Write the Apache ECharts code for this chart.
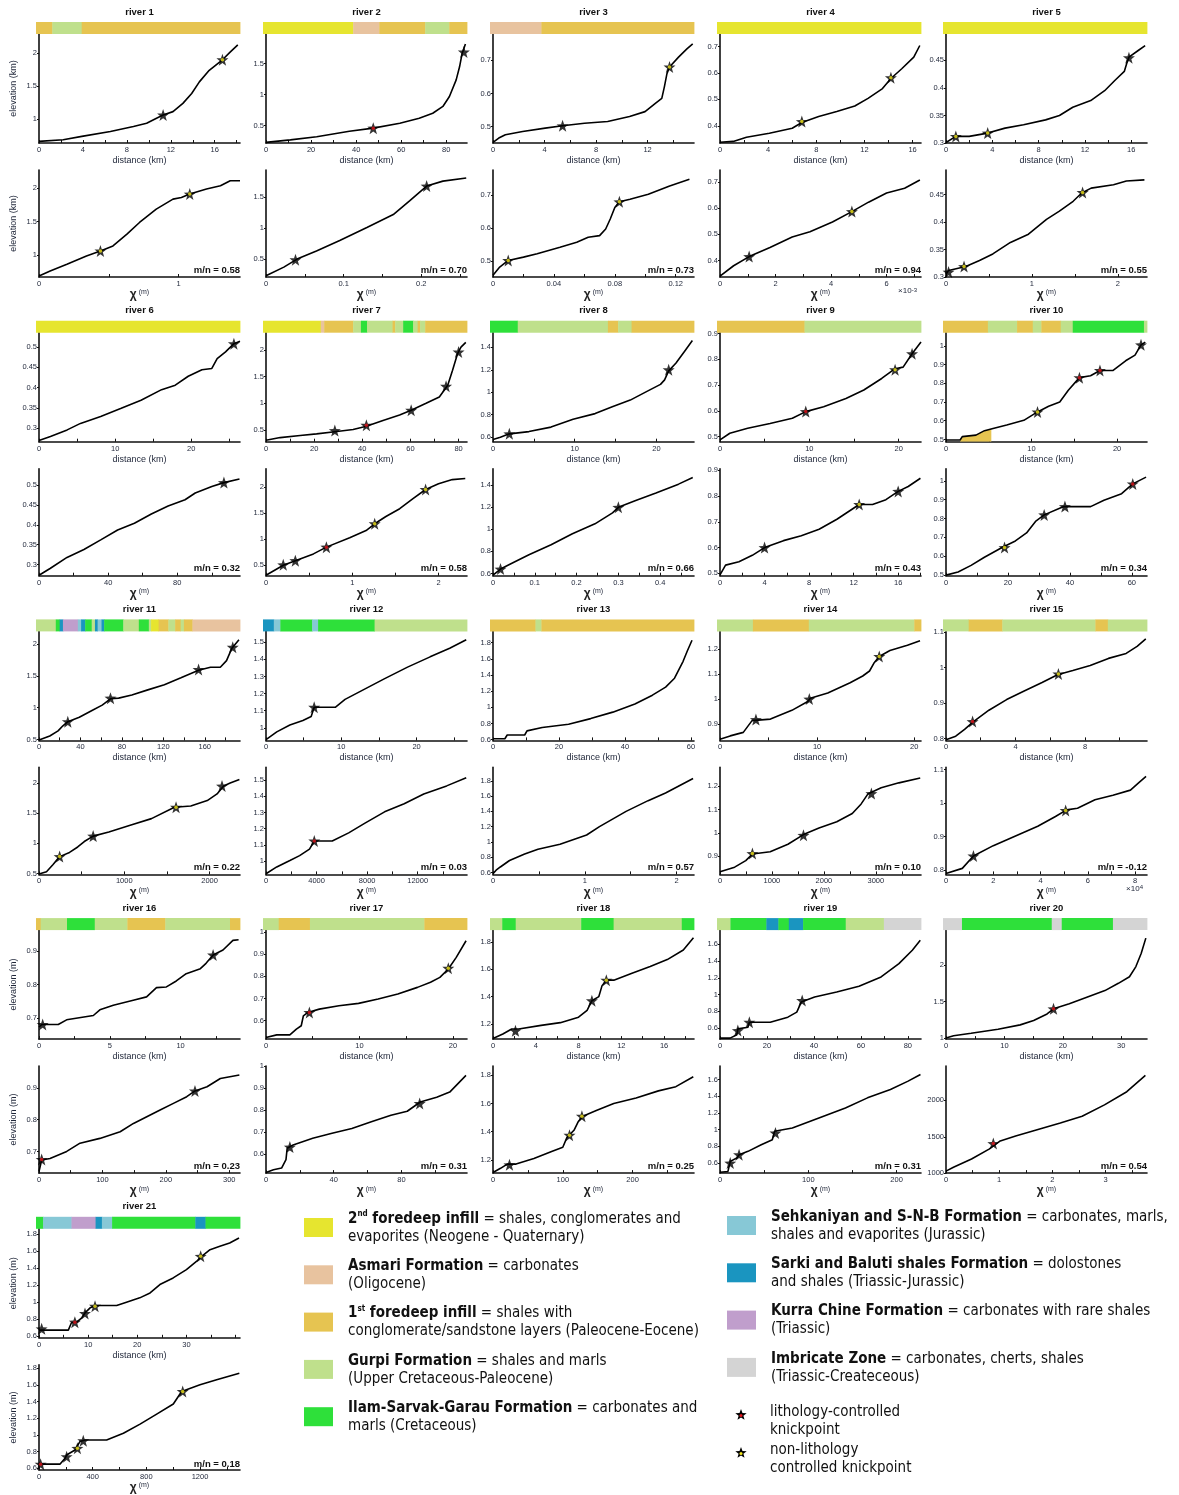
<!DOCTYPE html>
<html><head><meta charset="utf-8">
<script src="https://cdn.jsdelivr.net/npm/echarts@6/dist/echarts.min.js"></script>
<style>html,body{margin:0;padding:0;background:#fff}#c{width:1179px;height:1495px}</style>
</head><body><div id="c"></div>
<script>
// ---------------- DATA ----------------
const riverNames = ['river 1','river 2','river 3','river 4','river 5','river 6','river 7','river 8','river 9','river 10','river 11','river 12','river 13','river 14','river 15','river 16','river 17','river 18','river 19','river 20','river 21'];
const mnValues = ['0.58','0.70','0.73','0.94','0.55','0.32','0.58','0.66','0.43','0.34','0.22','0.03','0.57','0.10','-0.12','0.23','0.31','0.25','0.31','0.54','0.18'];

// distance axis: max, labels, tick step
const distMax = [18.3,89.2,15.6,16.7,17.36,26.4,83.5,24.6,22.5,23.5,194,26.7,60.9,20.7,11.57,14.2,21.5,18.8,85.6,34.4,40.9];
const distLabels = [[0,4,8,12,16],[0,20,40,60,80],[0,4,8,12],[0,4,8,12,16],[0,4,8,12,16],[0,10,20],[0,20,40,60,80],[0,10,20],[0,10,20],[0,10,20],[0,40,80,120,160],[0,10,20],[0,20,40,60],[0,10,20],[0,4,8],[0,5,10],[0,10,20],[0,4,8,12,16],[0,20,40,60,80],[0,10,20,30],[0,10,20,30]];
const distStep = [2,10,2,2,2,5,10,5,5,5,20,5,10,5,2,2.5,5,2,10,5,5];
// chi axis: max, labels, tick step
const chiMax = [1.44,0.259,0.132,7.24,2.34,116.3,2.33,0.481,18.05,64.9,2357,15900,2.19,3870,8.5,317,118.7,288,227.6,3.78,1498];
const chiLabels = [[0,1],[0,0.1,0.2],[0,0.04,0.08,0.12],[0,2,4,6],[0,1,2],[0,40,80],[0,1,2],[0,0.1,0.2,0.3,0.4],[0,4,8,12,16],[0,20,40,60],[0,1000,2000],[0,4000,8000,12000],[0,1,2],[0,1000,2000,3000],[0,2,4,6,8],[0,100,200,300],[0,40,80],[0,100,200],[0,100,200],[0,1,2,3],[0,400,800,1200]];
const chiStep = [0.5,0.05,0.02,1,0.5,20,0.5,0.05,2,10,500,2000,0.5,500,1,50,20,50,50,0.5,200];
const chiMultiplier = ['','','','×10{s|-3}','','','','','','','','','','','×10{s|4}','','','','','',''];
// elevation axes: [min, max]
const elevTop = [[0.64,2.29],[0.22,1.98],[0.45,0.78],[0.335,0.7475],[0.3,0.498],[0.267,0.535],[0.283,2.32],[0.56,1.53],[0.48,0.904],[0.488,1.07],[0.485,2.2],[0.926,1.564],[0.59,1.94],[0.835,1.27],[0.795,1.102],[0.636,0.964],[0.517,1.008],[1.09,1.885],[0.468,1.77],[0.985,2.48],[0.58,1.86]];
const elevBot = [[0.67,2.27],[0.21,1.94],[0.453,0.776],[0.337,0.746],[0.3,0.495],[0.272,0.541],[0.3,2.36],[0.58,1.55],[0.491,0.906],[0.495,1.065],[0.485,2.26],[0.918,1.578],[0.575,1.975],[0.823,1.28],[0.787,1.107],[0.632,0.968],[0.514,1.0],[1.106,1.866],[0.48,1.76],[1000,2472],[0.58,1.84]];
const elevTopLabels = [[1,1.5,2],[0.5,1,1.5],[0.5,0.6,0.7],[0.4,0.5,0.6,0.7],[0.3,0.35,0.4,0.45],[0.3,0.35,0.4,0.45,0.5],[0.5,1,1.5,2],[0.6,0.8,1,1.2,1.4],[0.5,0.6,0.7,0.8,0.9],[0.5,0.6,0.7,0.8,0.9,1],[0.5,1,1.5,2],[1,1.1,1.2,1.3,1.4,1.5],[0.6,0.8,1,1.2,1.4,1.6,1.8],[0.9,1,1.1,1.2],[0.8,0.9,1,1.1],[0.7,0.8,0.9],[0.6,0.7,0.8,0.9,1],[1.2,1.4,1.6,1.8],[0.6,0.8,1,1.2,1.4,1.6],[1,1.5,2],[0.6,0.8,1,1.2,1.4,1.6,1.8]];
const elevBotLabels = [[1,1.5,2],[0.5,1,1.5],[0.5,0.6,0.7],[0.4,0.5,0.6,0.7],[0.3,0.35,0.4,0.45],[0.3,0.35,0.4,0.45,0.5],[0.5,1,1.5,2],[0.6,0.8,1,1.2,1.4],[0.5,0.6,0.7,0.8,0.9],[0.5,0.6,0.7,0.8,0.9,1],[0.5,1,1.5,2],[1,1.1,1.2,1.3,1.4,1.5],[0.6,0.8,1,1.2,1.4,1.6,1.8],[0.9,1,1.1,1.2],[0.8,0.9,1,1.1],[0.7,0.8,0.9],[0.6,0.7,0.8,0.9,1],[1.2,1.4,1.6,1.8],[0.6,0.8,1,1.2,1.4,1.6],[1000,1500,2000],[0.6,0.8,1,1.2,1.4,1.6,1.8]];
const elevName = ['elevation (km)','','','','','','','','','','','','','','','elevation (m)','','','','','elevation (m)'];

// longitudinal profiles: [distance (km), elevation]
const profDist = [
 [[0,0.665],[2.2,0.69],[3.9,0.74],[6.5,0.815],[8.6,0.89],[9.8,0.94],[10.7,1.015],[11.3,1.065],[12.2,1.115],[13.1,1.24],[13.9,1.39],[14.6,1.565],[15.5,1.74],[16.7,1.9],[17.4,2.015],[18.1,2.125]],
 [[0,0.23],[10.8,0.27],[22.5,0.32],[37,0.41],[47.6,0.46],[59.4,0.54],[68,0.62],[74,0.7],[78.5,0.81],[81.4,0.97],[84.4,1.24],[85.9,1.45],[87,1.66],[88.5,1.82]],
 [[0,0.452],[0.45,0.465],[0.96,0.475],[2.3,0.485],[4.05,0.495],[5.4,0.502],[7.1,0.51],[8.9,0.515],[10.6,0.53],[11.8,0.545],[12.6,0.57],[13.1,0.585],[13.3,0.62],[13.5,0.66],[13.7,0.68],[14.4,0.71],[15.05,0.735],[15.5,0.75]],
 [[0,0.338],[1.1,0.341],[2.2,0.357],[4.1,0.372],[6,0.391],[6.8,0.4125],[8.2,0.435],[9.7,0.454],[11.2,0.475],[12.3,0.504],[13.5,0.541],[14.2,0.579],[15.1,0.616],[16.1,0.66],[16.6,0.704]],
 [[0,0.301],[0.85,0.312],[2,0.312],[3.6,0.318],[5.1,0.327],[6.7,0.333],[8.6,0.342],[9.8,0.35],[10.95,0.365],[12.5,0.377],[13.7,0.395],[14.6,0.414],[15.4,0.43],[15.6,0.444],[15.8,0.456],[16.6,0.468],[17.2,0.477]],
 [[0,0.27],[1.5,0.28],[3.7,0.296],[5.45,0.312],[8.1,0.329],[10.8,0.349],[13.4,0.369],[16.1,0.395],[17.9,0.406],[19.6,0.428],[21.4,0.444],[22.7,0.447],[23.4,0.471],[24.5,0.488],[25.6,0.508],[26.4,0.514]],
 [[0,0.31],[5.9,0.36],[14.2,0.4],[21,0.43],[28.6,0.47],[36.2,0.51],[41.7,0.57],[48.6,0.68],[55.5,0.78],[60.3,0.87],[66.5,1.0],[72,1.12],[74.1,1.25],[75.5,1.34],[77.5,1.62],[79.6,1.93],[81,2.05],[83,2.14]],
 [[0,0.58],[0.9,0.6],[2,0.63],[4.4,0.65],[7.1,0.69],[9.8,0.76],[12.5,0.81],[14.6,0.87],[16.8,0.93],[18.9,1.01],[20.5,1.07],[21,1.11],[21.5,1.19],[22.4,1.26],[23.5,1.37],[24.4,1.46]],
 [[0,0.487],[1.1,0.513],[3.1,0.532],[5.6,0.551],[8.1,0.571],[9.6,0.597],[11.6,0.616],[14.1,0.648],[16.1,0.681],[18.1,0.726],[19.6,0.764],[20.5,0.77],[21.5,0.822],[22.5,0.868]],
 [[0,0.497],[1.65,0.497],[1.9,0.515],[3.5,0.523],[4.5,0.547],[5.5,0.559],[7.1,0.577],[9.1,0.602],[10.7,0.647],[12,0.677],[13.3,0.7],[14.3,0.763],[15.6,0.83],[16.9,0.84],[18,0.868],[19.5,0.868],[21,0.92],[22.1,0.95],[22.8,1.005],[23.3,1.02]],
 [[0,0.49],[10.4,0.555],[18.4,0.635],[23.1,0.715],[27.8,0.78],[38.9,0.85],[51.6,0.96],[61,1.04],[69,1.14],[76.9,1.15],[89.6,1.2],[105,1.28],[121,1.36],[137,1.47],[154,1.59],[165.5,1.635],[175,1.635],[181,1.74],[186,1.93],[193,2.07]],
 [[0,0.93],[1.43,0.976],[3.17,1.016],[4.9,1.042],[6,1.066],[6.4,1.12],[9.2,1.12],[10.5,1.166],[13.1,1.226],[15.7,1.286],[18.8,1.355],[21.8,1.415],[24.4,1.465],[26.6,1.515]],
 [[0,0.61],[3.6,0.61],[4.3,0.657],[9.6,0.657],[10.3,0.708],[14.9,0.75],[22.9,0.79],[29.6,0.86],[36.3,0.94],[43,1.04],[48.3,1.15],[52.3,1.25],[55,1.36],[57.6,1.57],[58.9,1.7],[60.3,1.83]],
 [[0,0.84],[1.05,0.853],[2.4,0.867],[3.3,0.914],[5.2,0.92],[7.4,0.955],[9.04,0.99],[9.3,1.003],[11.1,1.024],[13.4,1.065],[14.7,1.092],[15.4,1.112],[15.9,1.146],[16.4,1.17],[17.5,1.194],[19.3,1.215],[20.6,1.233]],
 [[0,0.797],[0.56,0.807],[1.07,0.826],[1.58,0.848],[2.47,0.88],[3.49,0.91],[4.5,0.934],[5.53,0.958],[6.42,0.98],[7.3,0.992],[8.3,1.006],[9.35,1.026],[10.37,1.04],[11,1.06],[11.5,1.081]],
 [[0,0.672],[0.19,0.68],[1.36,0.68],[1.95,0.694],[3.84,0.707],[4.3,0.724],[5.25,0.738],[6.66,0.753],[7.6,0.763],[8.3,0.791],[9,0.793],[9.7,0.811],[10.4,0.833],[11.4,0.848],[11.8,0.864],[12.3,0.889],[13,0.904],[13.7,0.933],[14.1,0.935]],
 [[0,0.524],[1.15,0.536],[2.55,0.536],[3.25,0.562],[3.77,0.577],[4,0.622],[4.47,0.637],[5.7,0.652],[7.8,0.667],[9.9,0.678],[12,0.698],[14.1,0.72],[16.2,0.75],[17.6,0.773],[18.6,0.795],[19.5,0.833],[20.35,0.885],[21.4,0.96]],
 [[0,1.095],[0.92,1.127],[1.75,1.164],[2.4,1.164],[4.5,1.19],[6.3,1.21],[8,1.25],[8.8,1.3],[9.25,1.37],[9.9,1.4],[10.2,1.48],[10.6,1.52],[11.3,1.52],[13,1.57],[14.7,1.62],[16.3,1.67],[17.8,1.74],[18.75,1.83]],
 [[0,0.48],[4.3,0.48],[7.2,0.52],[7.6,0.59],[11.9,0.61],[12.5,0.67],[21.4,0.67],[28.9,0.73],[32.7,0.79],[34.6,0.91],[40.3,0.97],[49.7,1.03],[59.2,1.1],[68.6,1.21],[76.2,1.37],[81.9,1.53],[85.3,1.65]],
 [[0,1.0],[1.3,1.03],[4.3,1.065],[8.9,1.12],[12.7,1.18],[15,1.24],[17.3,1.33],[18.4,1.4],[21.1,1.47],[24.1,1.56],[27.2,1.65],[29.5,1.75],[31.4,1.84],[32.5,1.98],[33.4,2.16],[34.2,2.37]],
 [[0,0.67],[5.97,0.67],[6.6,0.756],[7.66,0.764],[8.7,0.815],[9.36,0.873],[10.4,0.932],[11.7,0.959],[15.8,0.959],[17.8,0.998],[20.5,1.049],[22.6,1.107],[24.6,1.205],[27.3,1.283],[30,1.381],[32.1,1.479],[33.1,1.537],[34.8,1.615],[36.8,1.654],[38.8,1.693],[40.7,1.752]]
];
// chi plots: [chi, elevation]
const profChi = [
 [[0,0.685],[0.08,0.76],[0.2,0.86],[0.34,0.985],[0.44,1.06],[0.53,1.135],[0.63,1.31],[0.72,1.485],[0.84,1.685],[0.96,1.835],[1.02,1.86],[1.08,1.91],[1.2,1.985],[1.3,2.035],[1.37,2.11],[1.44,2.11]],
 [[0,0.23],[0.023,0.37],[0.04,0.5],[0.065,0.63],[0.095,0.8],[0.13,1.01],[0.164,1.22],[0.185,1.44],[0.207,1.68],[0.228,1.76],[0.258,1.81]],
 [[0,0.458],[0.0044,0.483],[0.01,0.503],[0.02,0.513],[0.029,0.523],[0.044,0.543],[0.055,0.558],[0.0625,0.573],[0.07,0.578],[0.074,0.598],[0.077,0.628],[0.08,0.663],[0.083,0.68],[0.09,0.688],[0.102,0.703],[0.116,0.728],[0.129,0.748]],
 [[0,0.34],[0.49,0.38],[1.05,0.415],[1.8,0.45],[2.6,0.49],[3.24,0.51],[4.05,0.547],[4.75,0.587],[5.35,0.623],[6,0.658],[6.65,0.676],[7.2,0.708]],
 [[0,0.305],[0.03,0.312],[0.23,0.319],[0.39,0.33],[0.545,0.342],[0.75,0.363],[0.96,0.378],[1.17,0.405],[1.32,0.42],[1.48,0.438],[1.58,0.453],[1.69,0.462],[1.95,0.468],[2.1,0.475],[2.31,0.477]],
 [[0,0.273],[6.4,0.29],[16.2,0.318],[26,0.338],[35.7,0.362],[45.5,0.387],[55.2,0.404],[65,0.427],[74.7,0.447],[84.5,0.463],[90.4,0.48],[100,0.496],[107,0.506],[116,0.515]],
 [[0,0.31],[0.2,0.5],[0.34,0.59],[0.55,0.72],[0.7,0.85],[0.97,1.03],[1.16,1.17],[1.26,1.3],[1.39,1.44],[1.55,1.59],[1.7,1.78],[1.85,1.96],[2.0,2.07],[2.16,2.15],[2.31,2.17]],
 [[0,0.585],[0.018,0.64],[0.044,0.69],[0.086,0.77],[0.139,0.86],[0.19,0.96],[0.244,1.05],[0.286,1.15],[0.3,1.2],[0.34,1.26],[0.39,1.33],[0.444,1.41],[0.478,1.47]],
 [[0,0.494],[0.5,0.532],[1.7,0.545],[2.9,0.57],[4,0.6],[5.7,0.627],[7.3,0.646],[8.9,0.671],[10.5,0.71],[12.5,0.767],[13.7,0.767],[14.9,0.786],[16,0.818],[16.9,0.837],[18,0.869]],
 [[0,0.498],[3.9,0.515],[8.1,0.55],[12.4,0.593],[18.1,0.645],[22.4,0.68],[26,0.723],[28.9,0.784],[31.7,0.819],[36.7,0.854],[38.1,0.863],[46.7,0.863],[51,0.897],[56.7,0.932],[60.3,0.984],[64.6,1.02]],
 [[0,0.49],[88,0.53],[165,0.65],[242,0.78],[358,0.85],[454,0.94],[531,1.03],[635,1.12],[819,1.19],[1088,1.31],[1319,1.41],[1588,1.6],[1780,1.62],[1973,1.71],[2088,1.82],[2165,1.95],[2242,2.0],[2350,2.06]],
 [[0,0.922],[850,0.964],[1890,1.004],[2660,1.034],[3440,1.074],[3820,1.124],[5240,1.124],[6540,1.174],[7830,1.234],[9380,1.304],[10930,1.354],[12480,1.414],[14290,1.464],[15840,1.514]],
 [[0,0.585],[0.034,0.63],[0.08,0.672],[0.18,0.757],[0.345,0.842],[0.49,0.905],[0.73,0.97],[1.02,1.09],[1.16,1.2],[1.45,1.4],[1.69,1.54],[1.88,1.64],[2.18,1.83]],
 [[0,0.834],[282,0.854],[496,0.882],[624,0.91],[966,0.92],[1308,0.952],[1607,0.993],[1906,1.021],[2248,1.048],[2547,1.083],[2718,1.124],[2846,1.166],[3103,1.193],[3444,1.214],[3855,1.235]],
 [[0,0.79],[0.69,0.805],[1.16,0.842],[2.0,0.873],[2.94,0.902],[3.88,0.931],[4.63,0.96],[5.1,0.98],[5.56,0.985],[6.3,1.01],[7.06,1.024],[7.8,1.039],[8.18,1.063],[8.46,1.08]],
 [[0,0.637],[4.2,0.673],[17.4,0.678],[43.7,0.7],[64.7,0.726],[96,0.741],[128,0.762],[149,0.788],[170,0.809],[191,0.83],[212,0.851],[233,0.872],[246,0.89],[265,0.903],[286,0.929],[316,0.94]],
 [[0,0.517],[4.4,0.529],[9.2,0.537],[11.8,0.575],[12.5,0.627],[16,0.642],[27.6,0.672],[39,0.695],[50.7,0.717],[62.2,0.747],[73.8,0.777],[83.4,0.795],[91.1,0.837],[100.8,0.859],[108.5,0.882],[118.1,0.958]],
 [[0,1.11],[10.8,1.14],[20.4,1.17],[33,1.17],[58.6,1.21],[84,1.26],[100,1.29],[106,1.36],[116,1.41],[122,1.47],[128.7,1.51],[148,1.55],[173,1.6],[205,1.64],[237,1.69],[262,1.72],[287,1.79]],
 [[0,0.49],[9,0.5],[11.6,0.62],[19,0.66],[21.6,0.7],[31.7,0.74],[46.7,0.82],[59.3,0.88],[61.8,0.98],[81.9,1.02],[112,1.14],[142,1.26],[167,1.38],[193,1.48],[213,1.58],[227,1.66]],
 [[0,1027],[0.14,1081],[0.48,1194],[0.81,1330],[1.02,1442],[1.31,1510],[1.73,1600],[2.15,1690],[2.56,1781],[2.98,1939],[3.4,2120],[3.75,2345]],
 [[0,0.65],[156,0.65],[194,0.72],[206,0.76],[268,0.82],[305,0.92],[343,0.94],[504,0.94],[629,1.02],[753,1.13],[877,1.25],[1001,1.37],[1063,1.52],[1200,1.6],[1324,1.66],[1493,1.74]]
];
// knickpoints: [x, elevation, type]  L = lithology-controlled, N = non-lithology, B = unmarked
const knickDist = [
 [[11.3,1.065,'B'],[16.7,1.9,'N']],
 [[47.6,0.46,'L'],[87.8,1.69,'B']],
 [[5.4,0.502,'B'],[13.7,0.68,'N']],
 [[6.8,0.416,'N'],[14.2,0.582,'N']],
 [[0.85,0.312,'N'],[3.6,0.318,'N'],[15.8,0.455,'B']],
 [[25.6,0.508,'B']],
 [[28.6,0.49,'B'],[41.7,0.59,'L'],[60.3,0.87,'B'],[74.8,1.32,'B'],[80,1.96,'B']],
 [[2,0.63,'B'],[21.5,1.2,'B']],
 [[9.6,0.597,'L'],[19.6,0.76,'N'],[21.5,0.822,'B']],
 [[10.7,0.647,'N'],[15.6,0.83,'L'],[18,0.868,'L'],[22.8,1.005,'B']],
 [[27.8,0.78,'B'],[69,1.15,'B'],[154,1.6,'B'],[187,1.95,'B']],
 [[6.4,1.12,'B']],
 [],
 [[3.7,0.918,'B'],[9.2,1.0,'B'],[16.4,1.17,'N']],
 [[1.53,0.848,'L'],[6.47,0.982,'N']],
 [[0.26,0.68,'B'],[12.3,0.889,'B']],
 [[4.64,0.637,'L'],[19.5,0.836,'N']],
 [[2.1,1.15,'B'],[9.25,1.37,'B'],[10.6,1.52,'N']],
 [[7.6,0.57,'B'],[12.5,0.67,'B'],[35,0.93,'B']],
 [[18.4,1.4,'L']],
 [[0.54,0.685,'B'],[7.3,0.764,'L'],[9.36,0.865,'B'],[11.4,0.951,'N'],[32.9,1.537,'N']]
];
const knickChi = [
 [[0.44,1.06,'N'],[1.08,1.91,'N']],
 [[0.038,0.49,'B'],[0.207,1.68,'B']],
 [[0.01,0.503,'N'],[0.083,0.68,'N']],
 [[1.05,0.415,'B'],[4.75,0.587,'N']],
 [[0.03,0.309,'B'],[0.21,0.319,'N'],[1.59,0.454,'N']],
 [[107,0.506,'B']],
 [[0.2,0.51,'B'],[0.34,0.59,'B'],[0.7,0.85,'L'],[1.26,1.3,'N'],[1.85,1.96,'N']],
 [[0.018,0.64,'B'],[0.3,1.2,'B']],
 [[4,0.6,'B'],[12.5,0.767,'N'],[16,0.818,'B']],
 [[18.9,0.645,'N'],[31.7,0.819,'B'],[38.4,0.863,'B'],[60.3,0.984,'L']],
 [[242,0.78,'N'],[635,1.12,'B'],[1607,1.6,'N'],[2146,1.95,'B']],
 [[3820,1.124,'L']],
 [],
 [[624,0.912,'N'],[1607,0.99,'B'],[2915,1.168,'B']],
 [[1.16,0.842,'B'],[5.06,0.978,'N']],
 [[4.2,0.675,'L'],[246,0.89,'B']],
 [[14.1,0.632,'B'],[90.75,0.83,'B']],
 [[23.6,1.165,'B'],[109.6,1.375,'N'],[127.4,1.51,'N']],
 [[11.6,0.6,'B'],[21.6,0.7,'B'],[62.8,0.96,'B']],
 [[0.89,1406,'L']],
 [[12,0.65,'L'],[206,0.74,'B'],[286,0.84,'N'],[330,0.93,'B'],[1071,1.52,'N']]
];
// lithology along each river: [start fraction, end fraction, formation index]
const litho = [
 [[0,0.08,2],[0.08,0.224,3],[0.224,1,2]],
 [[0,0.442,0],[0.442,0.57,1],[0.57,0.795,2],[0.795,0.913,3],[0.913,1,2]],
 [[0,0.252,1],[0.252,1,2]],
 [[0,1,0]],
 [[0,1,0]],
 [[0,1,0]],
 [[0,0.283,0],[0.283,0.3,1],[0.3,0.442,2],[0.442,0.48,3],[0.48,0.51,4],[0.51,0.635,3],[0.635,0.648,2],[0.648,0.687,3],[0.687,0.736,4],[0.736,0.758,3],[0.758,0.77,2],[0.77,0.795,3],[0.795,1,2]],
 [[0,0.136,4],[0.136,0.578,3],[0.578,0.628,2],[0.628,0.694,3],[0.694,1,2]],
 [[0,0.429,2],[0.429,1,3]],
 [[0,0.22,2],[0.22,0.363,3],[0.363,0.44,2],[0.44,0.482,3],[0.482,0.577,2],[0.577,0.636,3],[0.636,0.985,4],[0.985,1,3]],
 [[0,0.097,3],[0.097,0.116,4],[0.116,0.132,6],[0.132,0.205,7],[0.205,0.221,5],[0.221,0.241,6],[0.241,0.273,4],[0.273,0.289,3],[0.289,0.302,6],[0.302,0.321,5],[0.321,0.334,6],[0.334,0.428,4],[0.428,0.504,3],[0.504,0.553,4],[0.553,0.564,3],[0.564,0.601,0],[0.601,0.649,2],[0.649,0.682,3],[0.682,0.709,2],[0.709,0.725,3],[0.725,0.767,2],[0.767,1,1]],
 [[0,0.053,6],[0.053,0.085,5],[0.085,0.241,4],[0.241,0.27,5],[0.27,0.547,4],[0.547,1,3]],
 [[0,0.223,2],[0.223,0.252,3],[0.252,1,2]],
 [[0,0.176,3],[0.176,0.45,2],[0.45,0.967,3],[0.967,1,2]],
 [[0,0.126,3],[0.126,0.291,2],[0.291,0.747,3],[0.747,0.808,2],[0.808,1,3]],
 [[0,0.023,2],[0.023,0.152,3],[0.152,0.288,4],[0.288,0.448,3],[0.448,0.634,2],[0.634,0.951,3],[0.951,1,2]],
 [[0,0.077,3],[0.077,0.23,2],[0.23,0.791,3],[0.791,1,2]],
 [[0,0.06,3],[0.06,0.126,4],[0.126,0.447,3],[0.447,0.606,4],[0.606,0.94,3],[0.94,1,4]],
 [[0,0.066,3],[0.066,0.242,4],[0.242,0.301,6],[0.301,0.352,4],[0.352,0.422,6],[0.422,0.631,4],[0.631,0.818,3],[0.818,1,8]],
 [[0,0.093,8],[0.093,0.533,4],[0.533,0.582,8],[0.582,0.833,4],[0.833,1,8]],
 [[0,0.035,4],[0.035,0.174,5],[0.174,0.292,7],[0.292,0.323,6],[0.323,0.373,5],[0.373,0.781,4],[0.781,0.831,6],[0.831,1,4]]
];
// river 10: 1st foredeep infill outcrop under the profile
const river10Fill = [[1.65,0.497],[1.9,0.515],[3.5,0.523],[4.5,0.547],[5.3,0.557]];

// legend
const formationNames = ['2{s|nd} foredeep infill','Asmari Formation','1{s|st} foredeep infill','Gurpi Formation','Ilam-Sarvak-Garau Formation','Sehkaniyan and S-N-B Formation','Sarki and Baluti shales Formation','Kurra Chine Formation','Imbricate Zone'];
const formationLine1 = [' = shales, conglomerates and',' = carbonates',' = shales with',' = shales and marls',' = carbonates and',' = carbonates, marls,',' = dolostones',' = carbonates with rare shales',' = carbonates, cherts, shales'];
const formationLine2 = ['evaporites (Neogene - Quaternary)','(Oligocene)','conglomerate/sandstone layers (Paleocene-Eocene)','(Upper Cretaceous-Paleocene)','marls (Cretaceous)','shales and evaporites (Jurassic)','and shales (Triassic-Jurassic)','(Triassic)','(Triassic-Createceous)'];
const knickLegend = ['lithology-controlled\nknickpoint','non-lithology\ncontrolled knickpoint'];

// ---------------- STYLE / LAYOUT ----------------
const FORM_COLORS = ['#e6e52f','#e8c39f','#e6c451','#bfe08c','#2ee03a','#87c8d6','#1a95c0','#c09ecc','#d4d4d4'];
const KNICK_COLORS = {L:'#e3141b', N:'#f3e61c'};
const COLS = [39,266,493,720,946], W = 201, ROWSTEP = 298.7;
const FONT = '"Liberation Sans", Arial, sans-serif';
const NARROW = '"Liberation Sans Narrow", "Arial Narrow", "DejaVu Sans Condensed", sans-serif';
const STAR = 'path://M0,-10 L2.35,-3.24 L9.51,-3.09 L3.8,1.24 L5.88,8.09 L0,4 L-5.88,8.09 L-3.8,1.24 L-9.51,-3.09 L-2.35,-3.24 Z';
const LABEL_COLOR = '#1e2538';

function fmt(v){ return String(+(+v).toFixed(6)); }
function ticksFrom(max, step){ const t=[]; for(let k=0;k*step<=max+1e-9;k++) t.push(+(k*step).toFixed(6)); return t; }

const grids=[], xAxes=[], yAxes=[], series=[], graphics=[];
const axisLineStyle = {color:'#111', width:1.6};

function valueX(gi, max, labels, step, name, gap){
  return {gridIndex:gi, type:'value', min:0, max:max,
    axisLine:{show:true, onZero:false, lineStyle:axisLineStyle},
    axisTick:{show:true, inside:true, length:3, lineStyle:{color:'#111',width:1}, customValues: ticksFrom(max, step)},
    axisLabel:{show:true, fontSize:7.5, color:LABEL_COLOR, margin:3, fontFamily:FONT, customValues: labels, formatter: fmt},
    splitLine:{show:false},
    name:name, nameLocation:'middle', nameGap:gap,
    nameTextStyle:{fontSize:9, color:LABEL_COLOR, fontFamily:FONT,
      rich:{c:{fontSize:12, fontWeight:'bold', color:'#222', fontFamily:FONT}, u:{fontSize:7, color:LABEL_COLOR, fontFamily:FONT, verticalAlign:'top', padding:[0,0,5,0]}}}
  };
}
function valueY(gi, ext, labels, name){
  return {gridIndex:gi, type:'value', min:ext[0], max:ext[1],
    axisLine:{show:true, onZero:false, lineStyle:axisLineStyle},
    axisTick:{show:true, inside:false, length:2, lineStyle:{color:'#111',width:1}, customValues: labels},
    axisLabel:{show:true, fontSize:7.5, color:LABEL_COLOR, margin:2, fontFamily:FONT, customValues: labels, formatter: fmt},
    splitLine:{show:false},
    name:name, nameLocation:'middle', nameGap:21, nameRotate:90,
    nameTextStyle:{fontSize:9, color:LABEL_COLOR, fontFamily:FONT}
  };
}
function hiddenAxis(gi){ return {gridIndex:gi, type:'value', min:0, max:1, show:false}; }

function renderLitho(params, api){
  const s = api.value(0), e = api.value(1), f = api.value(2);
  const p0 = api.coord([s,1]), p1 = api.coord([e,0]);
  return {type:'rect', shape:{x:p0[0], y:p0[1], width:p1[0]-p0[0]+0.4, height:p1[1]-p0[1]}, style:{fill:FORM_COLORS[f]}};
}
function knickSeries(xi, pts){
  const out=[];
  out.push({type:'scatter', xAxisIndex:xi, yAxisIndex:xi, symbol:STAR, symbolSize:12, z:5,
    itemStyle:{color:'#000'}, data: pts.map(p=>[p[0],p[1]]), silent:true});
  out.push({type:'scatter', xAxisIndex:xi, yAxisIndex:xi, symbol:'circle', symbolSize:3.5, z:6,
    data: pts.filter(p=>p[2]!=='B').map(p=>({value:[p[0],p[1]], itemStyle:{color:KNICK_COLORS[p[2]]}})), silent:true});
  return out;
}

for(let i=0;i<21;i++){
  const r = Math.floor(i/5), c = i%5, L = COLS[c], base = r*ROWSTEP;
  grids.push({left:L-3, top:22+base, width:W+3, height:12});
  grids.push({left:L, top:34+base, width:W, height:109});
  grids.push({left:L, top:170+base, width:W, height:107});
  const gb=3*i, gt=3*i+1, gc=3*i+2;
  xAxes.push(hiddenAxis(gb)); yAxes.push(hiddenAxis(gb));
  xAxes.push(valueX(gt, distMax[i], distLabels[i], distStep[i], 'distance (km)', 13));
  yAxes.push(valueY(gt, elevTop[i], elevTopLabels[i], elevName[i]));
  xAxes.push(valueX(gc, chiMax[i], chiLabels[i], chiStep[i], '{c|χ}{u| (m)}', 12));
  yAxes.push(valueY(gc, elevBot[i], elevBotLabels[i], elevName[i]));

  series.push({type:'custom', xAxisIndex:gb, yAxisIndex:gb, renderItem:renderLitho, data:litho[i], encode:{x:[0,1]}, silent:true});
  if(i===9){
    series.push({type:'line', xAxisIndex:gt, yAxisIndex:gt, data:river10Fill, symbol:'none', lineStyle:{width:0},
      areaStyle:{color:FORM_COLORS[2], opacity:1, origin:'start'}, z:1, silent:true});
  }
  series.push({type:'line', xAxisIndex:gt, yAxisIndex:gt, data:profDist[i], symbol:'none', lineStyle:{color:'#000', width:1.6}, z:3, silent:true});
  series.push(...knickSeries(gt, knickDist[i]));
  series.push({type:'line', xAxisIndex:gc, yAxisIndex:gc, data:profChi[i], symbol:'none', lineStyle:{color:'#000', width:1.6}, z:3, silent:true});
  series.push(...knickSeries(gc, knickChi[i]));

  graphics.push({type:'text', x:L+W/2, y:12+base, style:{text:riverNames[i], font:'bold 9.5px '+FONT, fill:'#111', textAlign:'center', textVerticalAlign:'middle'}});
  graphics.push({type:'text', x:L+W, y:270+base, style:{text:'m/n = '+mnValues[i], font:'bold 9.5px '+FONT, fill:'#111', textAlign:'right', textVerticalAlign:'middle'}});
  if(chiMultiplier[i]){
    graphics.push({type:'text', x:L+W-4, y:291+base, style:{text:chiMultiplier[i], font:'8px '+FONT, fill:LABEL_COLOR, textAlign:'right', textVerticalAlign:'middle', rich:{s:{fontSize:6, verticalAlign:'top', fill:LABEL_COLOR}}}});
  }
}

// legend (formation swatches + knickpoint markers)
const legendLeftX = [304, 727], legendTop = 1218, legendStep = 47.3;
for(let k=0;k<9;k++){
  const col = k<5 ? 0 : 1, row = k<5 ? k : k-5;
  const sx = legendLeftX[col], sy = legendTop + row*legendStep - (col?2:0);
  graphics.push({type:'rect', shape:{x:sx, y:sy, width:29, height:19}, style:{fill:FORM_COLORS[k]}});
  graphics.push({type:'text', x:sx+44, y:sy-8, style:{
    text:'{b|'+formationNames[k].replace(/\{s\|(\w+)\}/,'}{s|$1}{b|')+'}'+formationLine1[k]+'\n'+formationLine2[k],
    font:'15px '+NARROW, fill:'#111', lineHeight:18,
    rich:{b:{fontWeight:'bold', fontSize:15, fontFamily:NARROW, fill:'#111', lineHeight:18},
          s:{fontWeight:'bold', fontSize:8, fontFamily:NARROW, fill:'#111', verticalAlign:'top', lineHeight:18}}}});
}
function starPts(cx, cy, R){ const p=[]; for(let k=0;k<10;k++){ const a=-Math.PI/2+k*Math.PI/5, rr=k%2?R*0.42:R; p.push([cx+rr*Math.cos(a), cy+rr*Math.sin(a)]); } return p; }
[['L',1415],['N',1453]].forEach((kk,j)=>{
  graphics.push({type:'polygon', shape:{points:starPts(741,kk[1],6)}, style:{fill:'#000'}});
  graphics.push({type:'circle', shape:{cx:741, cy:kk[1]+0.5, r:1.5}, style:{fill:KNICK_COLORS[kk[0]]}});
  graphics.push({type:'text', x:770, y:kk[1]-21+9, style:{text:knickLegend[j], font:'15px '+NARROW, fill:'#111', lineHeight:18}});
});

const chart = echarts.init(document.getElementById('c'), null, {renderer:'canvas'});
chart.setOption({
  animation:false, backgroundColor:'#fff',
  textStyle:{fontFamily:FONT},
  grid:grids, xAxis:xAxes, yAxis:yAxes, series:series,
  graphic:{elements:graphics}
});
</script></body></html>
